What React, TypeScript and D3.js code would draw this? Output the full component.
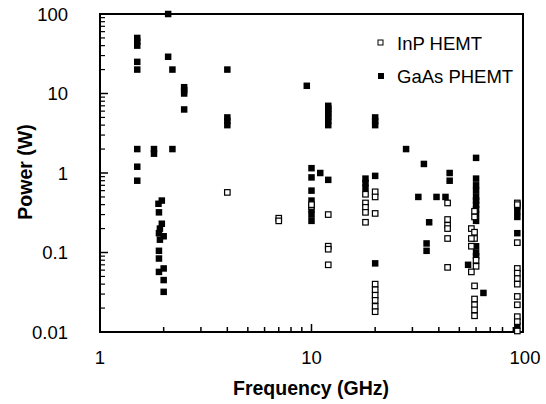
import React from "react";
import * as d3 from "d3";

// [frequency GHz, power W]
const gaasFreq = [
  1.5, 1.5, 1.5, 1.5, 1.5, 1.5, 1.5, 1.5,
  1.8, 1.8,
  2.1, 2.1, 2.2, 2.2,
  2.5, 2.5, 2.5, 2.5,
  4, 4, 4, 4,
  1.96, 1.89, 1.9, 1.96, 1.92, 1.9, 2.0, 1.92, 1.9, 1.9, 2.0, 1.9, 2.0, 2.0,
  9.5,
  12, 12, 12, 12, 12, 12, 12,
  20, 20, 20,
  10, 10, 10, 10, 10, 10, 10,
  11, 12,
  18, 18, 18,
  20, 20,
  28, 34, 45, 45,
  60, 60, 60, 60, 60, 60, 60, 60, 60, 60, 60, 60, 60,
  32, 39, 43, 36, 35, 35, 55, 65,
  94, 94, 94, 94, 94,
];
const gaasPower = [
  50, 45, 40, 25, 20, 2, 1.2, 0.8,
  2.0, 1.75,
  100, 29, 20, 2,
  12, 11, 10, 6.3,
  20, 5, 4.5, 4,
  0.45, 0.41, 0.32, 0.23, 0.2, 0.175, 0.16, 0.145, 0.105, 0.084, 0.063, 0.057, 0.045, 0.032,
  12.5,
  7, 6.5, 6, 5.5, 5, 4.5, 4,
  5, 4.5, 4,
  1.15, 0.88, 0.6, 0.45, 0.35, 0.3, 0.25,
  1.0, 0.82,
  0.85, 0.75, 0.65,
  0.92, 0.073,
  2.0, 1.3, 1.0, 0.8,
  1.55, 0.85, 0.7, 0.6, 0.5, 0.45, 0.4, 0.35, 0.3, 0.25, 0.12, 0.1, 0.09,
  0.5, 0.5, 0.5, 0.24, 0.13, 0.105, 0.07, 0.031,
  0.38, 0.33, 0.28, 0.175, 0.012,
];

const inpFreq = [
  4,
  7, 7,
  10, 10,
  12, 12, 12, 12,
  18, 18, 18, 18, 18,
  20, 20, 20, 20, 20, 20, 20, 20, 20,
  44, 44, 44, 44, 44, 44,
  59, 59, 57, 59, 59, 57, 57, 60, 60, 57, 59, 59, 59, 59, 59,
  94, 94, 94, 94, 94, 94, 94, 94, 94, 94, 94, 94,
];
const inpPower = [
  0.57,
  0.27, 0.25,
  0.38, 0.4,
  0.3, 0.12, 0.11, 0.07,
  0.54, 0.42, 0.37, 0.32, 0.24,
  0.58, 0.5, 0.31, 0.04, 0.034, 0.029, 0.025, 0.021, 0.018,
  0.42, 0.26, 0.22, 0.2, 0.15, 0.065,
  0.33, 0.28, 0.2, 0.18, 0.15, 0.15, 0.12, 0.08, 0.067, 0.057, 0.038, 0.026, 0.022, 0.019, 0.016,
  0.42, 0.4, 0.133, 0.063, 0.055, 0.047, 0.04, 0.028, 0.022, 0.0156, 0.0135, 0.0103,
];

const xTickValues = [1, 10, 100];
const xTickLabels = ["1", "10", "100"];
const yTickValues = [0.01, 0.1, 1, 10, 100];
const yTickLabels = ["0.01", "0.1", "1", "10", "100"];
const legendLabels = ["InP HEMT", "GaAs PHEMT"];

export default function App() {
  const W = 546, H = 404;
  const left = 100, right = 523, top = 14, bottom = 332;
  const x = d3.scaleLog().domain([1, 100]).range([left, right]);
  const y = d3.scaleLog().domain([0.01, 100]).range([bottom, top]);

  const xMinor: number[] = [];
  for (const dec of [1, 10]) for (let k = 2; k <= 9; k++) xMinor.push(dec * k);
  const yMinor: number[] = [];
  for (const dec of [0.01, 0.1, 1, 10]) for (let k = 2; k <= 9; k++) yMinor.push(dec * k);

  const font = "Liberation Sans, Arial, sans-serif";
  const s = 6.5;

  return (
    <svg width={W} height={H} style={{ position: "absolute", left: 0, top: 0, background: "#fff" }} fontFamily={font}>
      {/* ticks */}
      {xMinor.map((v, i) => (
        <line key={"xm" + i} x1={x(v)} x2={x(v)} y1={bottom} y2={bottom - 5} stroke="#000" strokeWidth={1.5} />
      ))}
      {xTickValues.map((v, i) => (
        <line key={"xM" + i} x1={x(v)} x2={x(v)} y1={bottom} y2={bottom - 8} stroke="#000" strokeWidth={1.5} />
      ))}
      {yMinor.map((v, i) => (
        <line key={"ym" + i} x1={left} x2={left + 5} y1={y(v)} y2={y(v)} stroke="#000" strokeWidth={1.2} />
      ))}
      {yTickValues.map((v, i) => (
        <line key={"yM" + i} x1={left} x2={left + 8} y1={y(v)} y2={y(v)} stroke="#000" strokeWidth={1.5} />
      ))}
      <rect x={left} y={top} width={right - left} height={bottom - top} fill="none" stroke="#000" strokeWidth={2} />

      {/* tick labels */}
      {yTickValues.map((v, i) => (
        <text key={"yl" + i} x={68} y={y(v) + 6.5} textAnchor="end" fontSize={18.5}>
          {yTickLabels[i]}
        </text>
      ))}
      {xTickValues.map((v, i) => (
        <text key={"xl" + i} x={x(v) + (i === 2 ? 2 : 0)} y={364} textAnchor="middle" fontSize={18.5}>
          {xTickLabels[i]}
        </text>
      ))}

      {/* axis titles */}
      <text x={311} y={395} textAnchor="middle" fontSize={19.5} fontWeight="bold">Frequency (GHz)</text>
      <text transform={`translate(32,${172}) rotate(-90)`} textAnchor="middle" fontSize={19.5} fontWeight="bold">Power (W)</text>

      {/* data */}
      {gaasFreq.map((f, i) => (
        <rect key={"g" + i} x={x(f) - s / 2} y={y(gaasPower[i]) - s / 2} width={s} height={s} fill="#000" />
      ))}
      {inpFreq.map((f, i) => (
        <rect key={"p" + i} x={x(f) - s / 2 + 0.5} y={y(inpPower[i]) - s / 2 + 0.5} width={s - 1} height={s - 1}
          fill="#fff" stroke="#000" strokeWidth={1.2} />
      ))}

      {/* legend */}
      <rect x={378} y={40} width={5} height={5} fill="#fff" stroke="#000" strokeWidth={1} />
      <text x={397} y={49.5} fontSize={18.5}>{legendLabels[0]}</text>
      <rect x={378} y={73} width={6} height={6} fill="#000" />
      <text x={397} y={82.5} fontSize={18.5}>{legendLabels[1]}</text>
    </svg>
  );
}
